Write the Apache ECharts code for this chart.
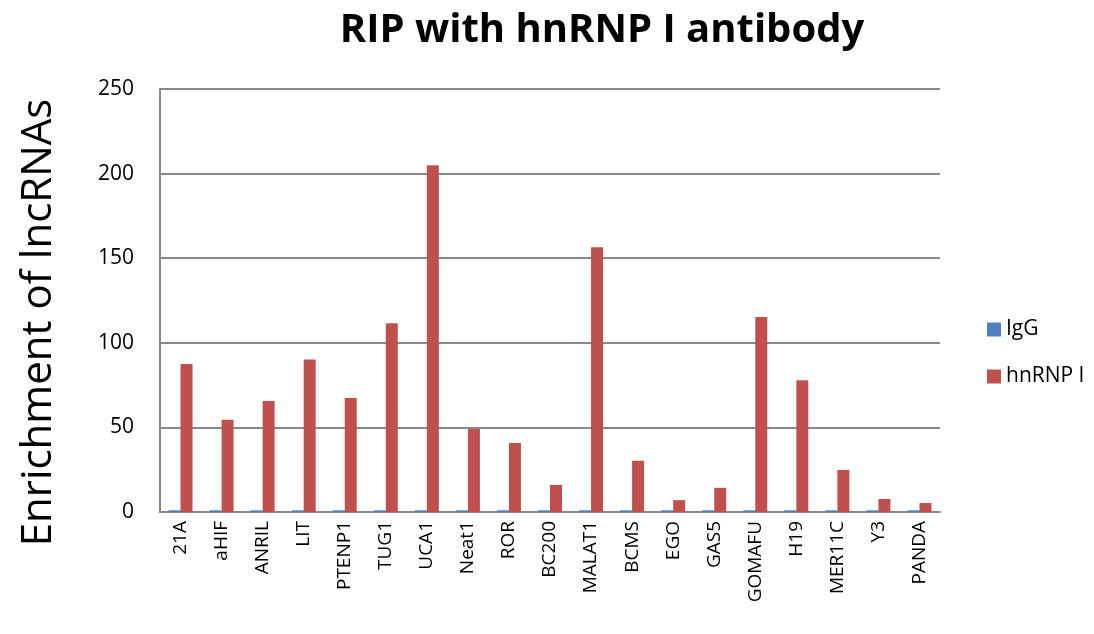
<!DOCTYPE html>
<html>
<head>
<meta charset="utf-8">
<script src="https://cdn.jsdelivr.net/npm/echarts@6/dist/echarts.min.js"></script>
<style>html,body{margin:0;padding:0;background:#fff}#c{width:1094px;height:634px}</style>
</head>
<body>
<div id="c"></div>
<script>
const categories = ['21A','aHIF','ANRIL','LIT','PTENP1','TUG1','UCA1','Neat1','ROR','BC200','MALAT1','BCMS','EGO','GAS5','GOMAFU','H19','MER11C','Y3','PANDA'];
const igg = [1,1,1,1,1,1,1,1,1,1,1,1,1,1,1,1,1,1,1];
const hnrnp = [87.5,54.5,65.6,90.2,67.4,111.5,205,49,40.8,16,156.4,30.3,7,14.3,115.2,77.8,24.8,7.7,5.3];
const yTicks = [0,50,100,150,200,250];

const chart = echarts.init(document.getElementById('c'));
const font = 'Open Sans';
chart.setOption({
  animation:false,
  backgroundColor:'#fff',
  title:{text:'RIP with hnRNP I antibody', left:597, top:6, textAlign:'center',
    textStyle:{fontFamily:font, fontWeight:'bold', fontSize:40, color:'#000'}},
  legend:{orient:'vertical', left:982, top:314, itemWidth:14, itemHeight:14, itemGap:26,
    icon:'rect', textStyle:{fontFamily:font, fontSize:21, color:'#000'},
    data:['IgG','hnRNP I']},
  grid:{left:160, right:154, top:89, bottom:122, containLabel:false},
  xAxis:{type:'category', data:categories,
    axisLine:{lineStyle:{color:'#888', width:2}}, axisTick:{show:false},
    axisLabel:{rotate:90, fontFamily:font, fontSize:19, color:'#000', margin:9, interval:0}},
  yAxis:{type:'value', min:yTicks[0], max:yTicks[yTicks.length-1], interval:50,
    name:'Enrichment of lncRNAs', nameLocation:'middle', nameGap:100, nameRotate:90,
    nameTextStyle:{fontFamily:font, fontSize:42, color:'#000', padding:[0,44,0,0]},
    axisLine:{show:true, lineStyle:{color:'#888', width:2}}, axisTick:{show:false},
    splitLine:{lineStyle:{color:'#888', width:2}},
    axisLabel:{fontFamily:font, fontSize:21, color:'#000', margin:26}},
  series:[
    {name:'IgG', type:'bar', data:igg, barWidth:12, barGap:'0%', barCategoryGap:'41%', itemStyle:{color:'#4F81BD'}},
    {name:'hnRNP I', type:'bar', data:hnrnp, barWidth:12, itemStyle:{color:'#C0504D'}}
  ]
});
</script>
</body>
</html>
